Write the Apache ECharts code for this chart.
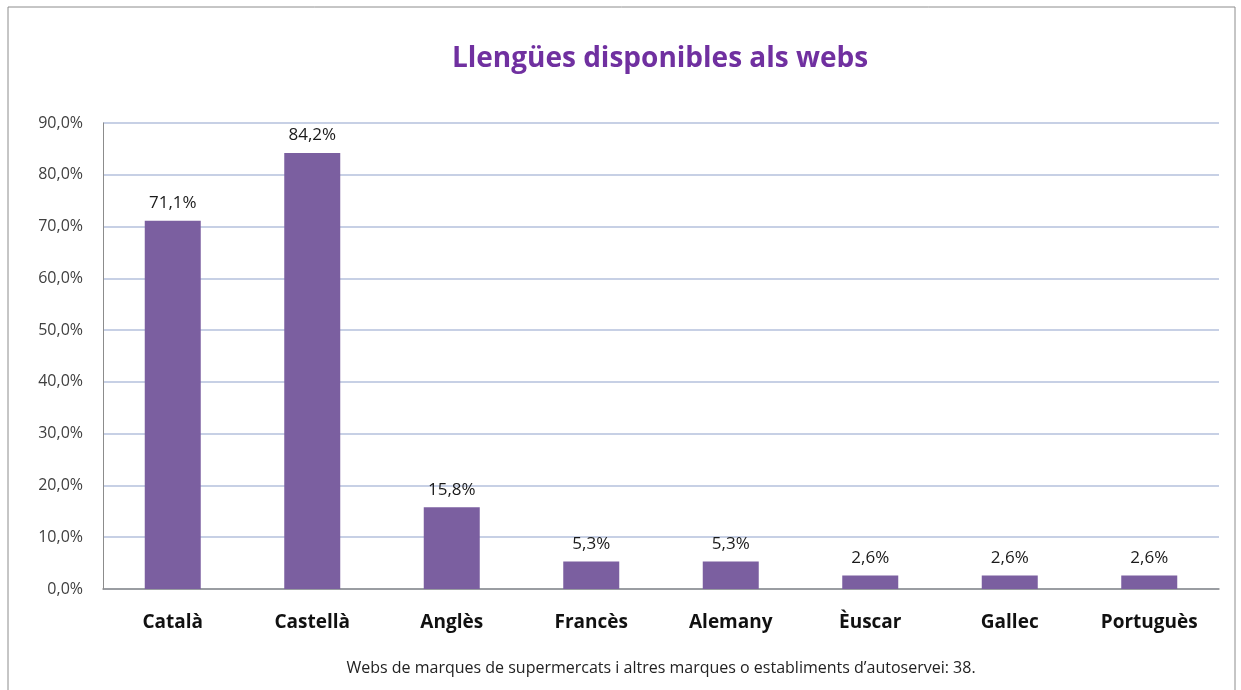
<!DOCTYPE html>
<html>
<head>
<meta charset="utf-8">
<script src="https://cdn.jsdelivr.net/npm/echarts@6/dist/echarts.min.js"></script>
<style>
  html, body { margin: 0; padding: 0; background: #fff; }
  #chart { width: 1241px; height: 690px; }
</style>
</head>
<body>
<div id="chart"></div>
<script>
const categories = ['Català', 'Castellà', 'Anglès', 'Francès', 'Alemany', 'Èuscar', 'Gallec', 'Portuguès'];
const shares = [71.1, 84.2, 15.8, 5.3, 5.3, 2.6, 2.6, 2.6];
const titleText = 'Llengües disponibles als webs';
const footNote = 'Webs de marques de supermercats i altres marques o establiments d\u2019autoservei: 38.';

const fontFam = '"Open Sans", Lato, sans-serif';
const pct = v => v.toFixed(1).replace('.', ',') + '%';

const myChart = echarts.init(document.getElementById('chart'));
myChart.setOption({
  animation: false,
  backgroundColor: '#fff',
  title: {
    text: titleText,
    left: 655,
    top: 40,
    textAlign: 'center',
    textStyle: { color: '#7030a0', fontSize: 28, fontWeight: 'bold', fontFamily: fontFam }
  },
  graphic: [
    {
      type: 'rect',
      shape: { x: 8, y: 7, width: 1227, height: 700 },
      style: { fill: 'none', stroke: '#8c8c8c', lineWidth: 1 },
      silent: true
    },
    {
      type: 'text',
      x: 661,
      y: 668,
      style: { text: footNote, fill: '#222', font: '16px ' + fontFam, align: 'center', verticalAlign: 'middle' }
    }
  ],
  grid: { left: 103, right: 22, top: 123, bottom: 101 },
  xAxis: {
    type: 'category',
    data: categories,
    axisLine: { lineStyle: { color: '#8c8c8c', width: 1.5 } },
    axisTick: { show: false },
    axisLabel: { color: '#111', fontSize: 19, fontWeight: 'bold', fontFamily: fontFam, margin: 24 }
  },
  yAxis: {
    type: 'value',
    min: 0,
    max: 90,
    interval: 10,
    axisLine: { show: true, lineStyle: { color: '#8c8c8c' } },
    axisTick: { show: false },
    axisLabel: { color: '#404040', fontSize: 16, fontFamily: fontFam, margin: 20, formatter: pct },
    splitLine: { lineStyle: { color: '#b4c0dc', width: 1.5 } }
  },
  series: [{
    type: 'bar',
    data: shares,
    barWidth: 56,
    itemStyle: { color: '#7b5fa0' },
    label: {
      show: true,
      position: 'top',
      distance: 9,
      color: '#1a1a1a',
      fontSize: 17,
      fontFamily: fontFam,
      formatter: p => pct(p.value)
    }
  }]
});
</script>
</body>
</html>
